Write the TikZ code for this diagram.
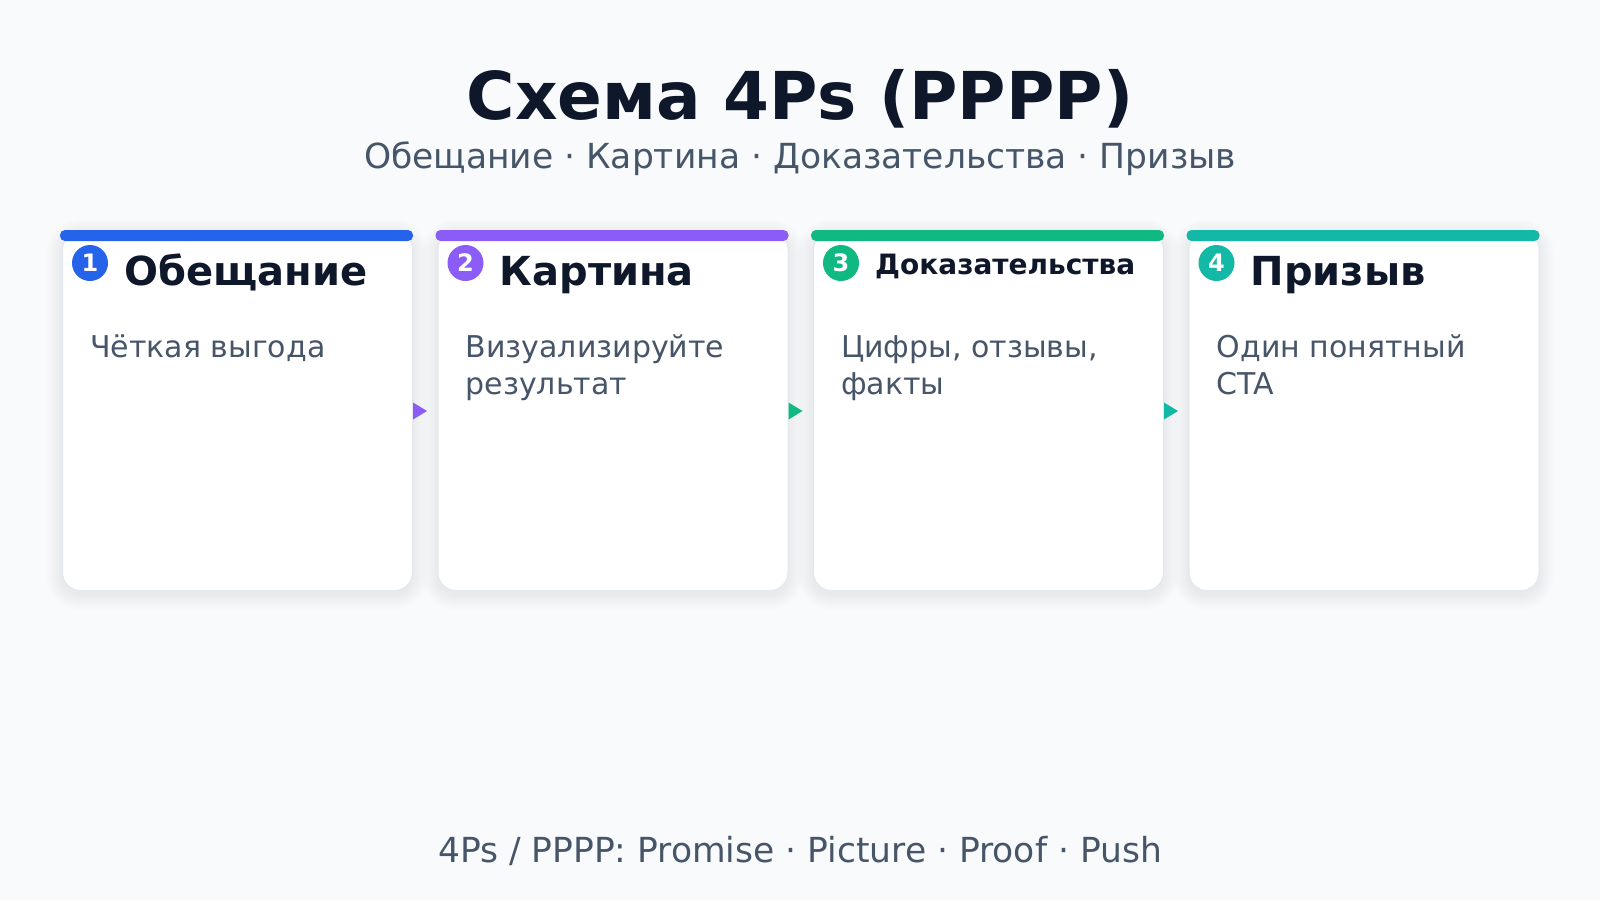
\documentclass[tikz,border=0pt]{standalone}
\usepackage{fontspec}
\setmainfont{DejaVu Sans}
\usetikzlibrary{calc}
\definecolor{bg}{HTML}{F8FAFC}
\definecolor{ink}{HTML}{0F172A}
\definecolor{muted}{HTML}{475569}
\definecolor{cblue}{HTML}{2563EB}
\definecolor{cpurple}{HTML}{8B5CF6}
\definecolor{cgreen}{HTML}{10B981}
\definecolor{cteal}{HTML}{14B8A6}
\definecolor{edge}{HTML}{E2E8F0}
\tikzset{
  cardbox/.style={draw=edge, line width=1pt, fill=white, rounded corners=18pt,
    minimum width=350pt, minimum height=359pt, inner sep=0pt, anchor=north west},
  badge/.style={circle, minimum size=36pt, inner sep=0pt, text=white,
    font=\fontsize{24}{24}\selectfont\bfseries},
  cardtitle/.style={anchor=base west, text=ink, inner sep=0pt},
  cardbody/.style={anchor=base west, text=muted, inner sep=0pt,
    font=\fontsize{30}{37.5}\selectfont},
}
% #1 index, #2 left x, #3 colour, #4 title size, #5 title baseline, #6 title, #7 body lines
\newcommand\mycard[7]{%
  \foreach \k in {1,...,16}{%
    \fill[black, opacity=0.0055, rounded corners={18+\k}]
      ({#2-\k},{231-\k+4}) rectangle ({#2+350+\k},{590+\k+4});
  }
  \node[cardbox] (c#1) at (#2,231) {};
  \fill[#3, rounded corners=5pt] ({#2-2},230) rectangle ({#2+351},241);
  \node[badge, fill=#3] (b#1) at ({#2+28},263) {#1};
  \node[cardtitle, font=\fontsize{#4}{#4}\selectfont\bfseries] (t#1) at ({#2+62},#5) {#6};
  \node[cardbody] (d#1) at ({#2+28},357) {\vtop{#7}};
}
\begin{document}
\begin{tikzpicture}[x=1pt,y=-1pt]
\fill[bg] (0,0) rectangle (1600,900);
\useasboundingbox (0,0) rectangle (1600,900);

\node[anchor=base, text=ink, inner sep=0pt, font=\fontsize{66}{72}\selectfont\bfseries] (title) at (800,119) {Схема 4Ps (PPPP)};
\node[anchor=base, text=muted, inner sep=0pt, font=\fontsize{34.5}{38}\selectfont] (sub) at (800,168) {Обещание · Картина · Доказательства · Призыв};

\mycard{1}{62}{cblue}{40}{285}{Обещание}{\hbox{Чёткая выгода}}
\mycard{2}{437.5}{cpurple}{40}{285}{Картина}{\hbox{Визуализируйте}\hbox{результат}}
\mycard{3}{813}{cgreen}{28}{274}{Доказательства}{\hbox{Цифры, отзывы,}\hbox{факты}}
\mycard{4}{1188.5}{cteal}{40}{285}{Призыв}{\hbox{Один понятный}\hbox{CTA}}

\fill[cpurple] (c1.east) -- ++(0,-8.5) -- ++(14,8.5) -- ++(-14,8.5) -- cycle;
\fill[cgreen] (c2.east) -- ++(0,-8.5) -- ++(14,8.5) -- ++(-14,8.5) -- cycle;
\fill[cteal] (c3.east) -- ++(0,-8.5) -- ++(14,8.5) -- ++(-14,8.5) -- cycle;

\node[anchor=base, text=muted, inner sep=0pt, font=\fontsize{34.5}{38}\selectfont] (foot) at (800,862) {4Ps / PPPP: Promise · Picture · Proof · Push};
\end{tikzpicture}
\end{document}
